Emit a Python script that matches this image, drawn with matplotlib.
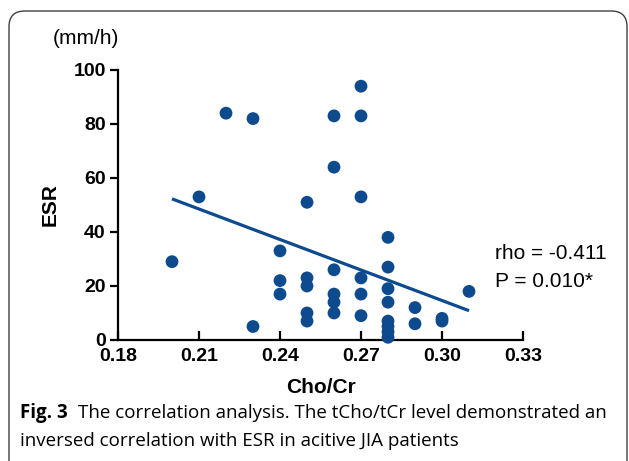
import numpy as np
import matplotlib.pyplot as plt
from matplotlib.patches import FancyBboxPatch

# ---- data ----
cho_cr = [0.20, 0.21, 0.22,
          0.23, 0.23,
          0.24, 0.24, 0.24,
          0.25, 0.25, 0.25, 0.25, 0.25,
          0.26, 0.26, 0.26, 0.26, 0.26, 0.26,
          0.27, 0.27, 0.27, 0.27, 0.27, 0.27,
          0.28, 0.28, 0.28, 0.28, 0.28, 0.28, 0.28, 0.28,
          0.29, 0.29,
          0.30, 0.30,
          0.31]
esr = [29, 53, 84,
       82, 5,
       33, 22, 17,
       51, 23, 20, 10, 7,
       83, 64, 26, 17, 14, 10,
       94, 83, 53, 23, 17, 9,
       38, 27, 19, 14, 7, 5, 3, 1,
       12, 6,
       8, 7,
       18]

x_ticks = [0.18, 0.21, 0.24, 0.27, 0.30, 0.33]
y_ticks = [0, 20, 40, 60, 80, 100]
stats_text = "rho = -0.411\nP = 0.010*"
caption_bold = "Fig. 3"
caption_line1 = "The correlation analysis. The tCho/tCr level demonstrated an"
caption_line2 = "inversed correlation with ESR in acitive JIA patients"

dot_color = "#0d4a8e"
cap_font = ["Open Sans", "DejaVu Sans"]

plt.rcParams["font.family"] = ["Liberation Sans", "DejaVu Sans"]

fig = plt.figure(figsize=(6.29, 4.61), dpi=100)
ax = fig.add_axes([0.1876, 0.2625, 0.6439, 0.5857])

x = np.array(cho_cr)
y = np.array(esr, dtype=float)
ax.scatter(x, y, s=85, color=dot_color, edgecolors="none", zorder=3, clip_on=False)

# linear fit over the data range
slope, icpt = np.polyfit(x, y, 1)
xf = np.array([x.min(), x.max()])
ax.plot(xf, slope * xf + icpt, color=dot_color, lw=2.3, solid_capstyle="butt", zorder=2)

ax.set_xlim(0.18, 0.33)
ax.set_ylim(0, 100)
ax.set_xticks(x_ticks, [f"{t:.2f}" for t in x_ticks])
ax.set_yticks(y_ticks, [str(t) for t in y_ticks])
for s in ["top", "right"]:
    ax.spines[s].set_visible(False)
for s in ["left", "bottom"]:
    ax.spines[s].set_linewidth(1.6)
ax.tick_params(axis="x", direction="in", width=1.6, length=6.5, labelsize=14, pad=6)
ax.tick_params(axis="y", direction="out", width=1.6, length=5.8, labelsize=14, pad=3)
for lab in ax.get_xticklabels() + ax.get_yticklabels():
    lab.set_fontweight("bold")

ax.set_xlabel("Cho/Cr", fontsize=15, fontweight="bold", labelpad=9)
ax.set_ylabel("ESR", fontsize=15, fontweight="bold", labelpad=10)
fig.text(0.137, 0.917, "(mm/h)", fontsize=15, ha="center", va="center")
fig.text(0.787, 1 - 267.5 / 461, stats_text, fontsize=15, ha="left", va="center",
         linespacing=1.55)

# caption
cx0 = 20 / 629
t_bold = fig.text(cx0, 1 - 413 / 461, caption_bold, fontsize=13.5, fontweight="bold",
                  family=cap_font, va="center")
fig.canvas.draw()
bb = t_bold.get_window_extent(fig.canvas.get_renderer())
fig.text(bb.x1 / fig.bbox.width + 10 / 629, 1 - 413 / 461, caption_line1, fontsize=13.5,
         family=cap_font, va="center")
fig.text(cx0, 1 - 441 / 461, caption_line2, fontsize=13.5, family=cap_font, va="center")

# rounded frame around the figure, open at the bottom edge
frame = FancyBboxPatch((9 / 629, -0.2), 618 / 629, 1.2 - 11 / 461,
                       boxstyle="round,pad=0,rounding_size=0.025",
                       transform=fig.transFigure, fill=False, edgecolor="#404040", lw=1.0,
                       mutation_aspect=629 / 461)
fig.patches.append(frame)

fig.savefig("out.png", dpi=100)
